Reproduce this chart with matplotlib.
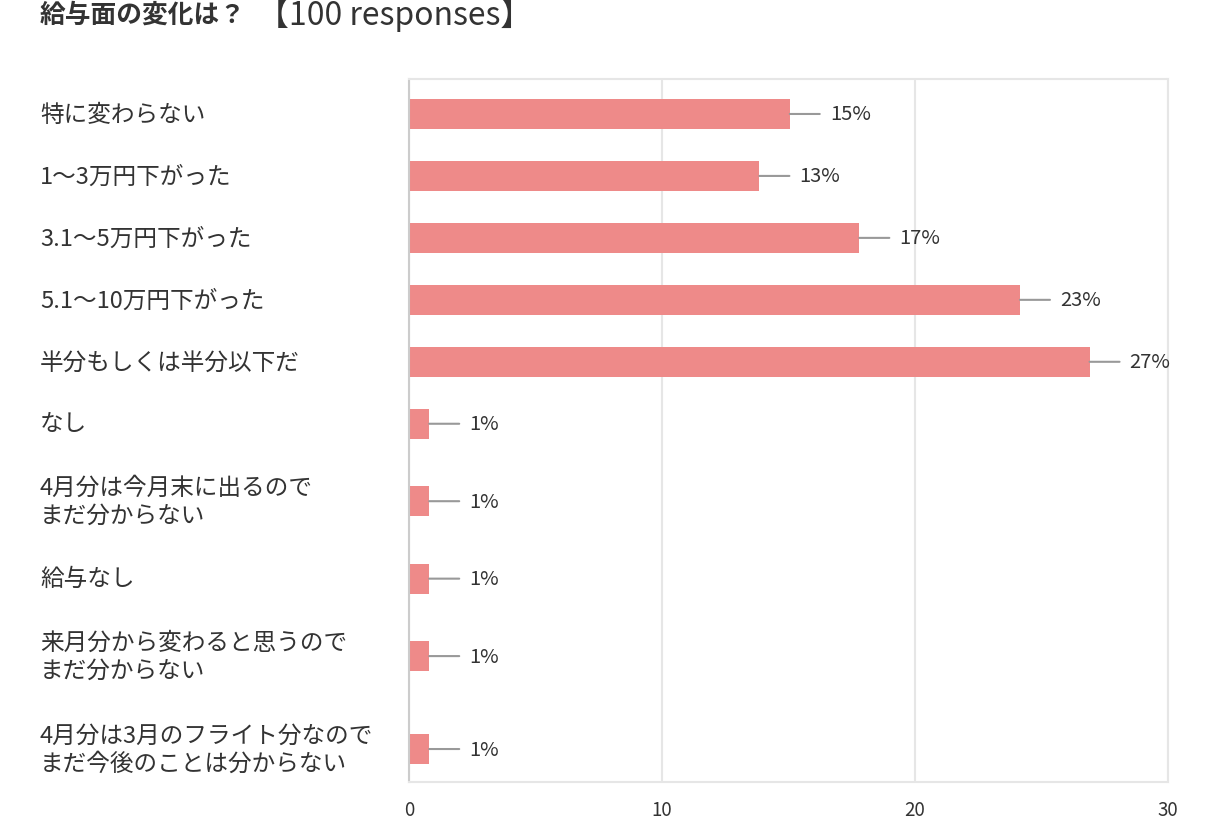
import numpy as np
import matplotlib.pyplot as plt
import matplotlib.transforms as mtransforms

plt.rcParams['font.family'] = ['Noto Sans CJK JP', 'DejaVu Sans']

labels = [
    "特に変わらない",
    "1〜3万円下がった",
    "3.1〜5万円下がった",
    "5.1〜10万円下がった",
    "半分もしくは半分以下だ",
    "なし",
    "4月分は今月末に出るので\nまだ分からない",
    "給与なし",
    "来月分から変わると思うので\nまだ分からない",
    "4月分は3月のフライト分なので\nまだ今後のことは分からない",
]
values = [15.05, 13.85, 17.8, 24.15, 26.9, 0.8, 0.8, 0.8, 0.8, 0.8]
pct_labels = ["15%", "13%", "17%", "23%", "27%", "1%", "1%", "1%", "1%", "1%"]
xticks = [0, 10, 20, 30]

bar_color = '#ee8a89'
text_color = '#333333'

# row height grows with the number of lines in the label
row_h = np.array([62 if l.count("\n") == 0 else 93 for l in labels], dtype=float)
centers = np.zeros(len(labels))
for i in range(1, len(labels)):
    centers[i] = centers[i - 1] + (row_h[i - 1] + row_h[i]) / 2

fig = plt.figure(figsize=(12.2, 8.2), dpi=100)
ax = fig.add_axes([409 / 1220, 1 - 783 / 820, (1168 - 409) / 1220, (783 - 80) / 820])

ax.barh(centers, values, height=30, color=bar_color, zorder=2)
ax.set_ylim(centers[-1] + 33, centers[0] - 35)
ax.set_xlim(0, 30)

ax.set_xticks(xticks)
ax.set_xticklabels([str(t) for t in xticks], fontsize=13.5, color=text_color)
ax.tick_params(axis='x', length=0, pad=12)
ax.set_yticks([])
ax.grid(axis='x', color='#e6e6e6', lw=1.5, zorder=0)
for s in ['top', 'right', 'bottom']:
    ax.spines[s].set_color('#e6e6e6')
    ax.spines[s].set_linewidth(1.5)
ax.spines['left'].set_color('#cccccc')
ax.spines['left'].set_linewidth(1.5)

for y, v, t in zip(centers, values, pct_labels):
    ax.annotate('', xy=(v, y), xytext=(21.6, 0), textcoords='offset points',
                arrowprops=dict(arrowstyle='-', color='#999999', lw=1.5,
                                shrinkA=0, shrinkB=0))
    ax.annotate(t, xy=(v, y), xytext=(28.8, 0), textcoords='offset points',
                va='center', ha='left', fontsize=14.5, color=text_color)

trans = mtransforms.blended_transform_factory(fig.transFigure, ax.transData)
for y, l in zip(centers, labels):
    ax.text(40 / 1220, y, l, transform=trans, ha='left', va='center',
            fontsize=17, color=text_color, linespacing=1.3)

fig.text(40 / 1220, 1 - 15 / 820, "給与面の変化は？", fontsize=18.5, fontweight='bold',
         color=text_color, ha='left', va='center')
fig.text(257 / 1220, 1 - 15 / 820, "【100 responses】", fontsize=23,
         color=text_color, ha='left', va='center')

fig.savefig('out.png', dpi=100, facecolor='white')
